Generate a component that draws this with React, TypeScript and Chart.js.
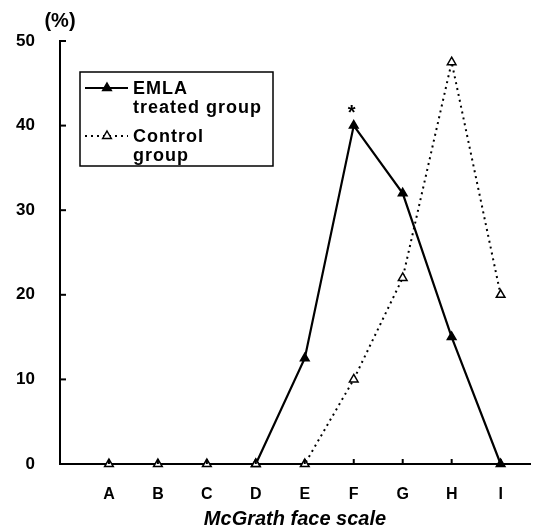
import React, { useEffect, useRef } from "react";
import { Chart, registerables } from "chart.js";

Chart.register(...registerables);

const categories = ["A", "B", "C", "D", "E", "F", "G", "H", "I"];
const emlaValues: (number | null)[] = [null, null, null, 0, 12.5, 40, 32, 15, 0];
const controlValues: number[] = [0, 0, 0, 0, 0, 10, 22, 47.5, 20];
const yTicks = [0, 10, 20, 30, 40, 50];
const emlaLabel = ["EMLA", "treated group"];
const controlLabel = ["Control", "group"];
const xTitle = "McGrath face scale";
const yUnit = "(%)";
const significanceMark = "*";
const significanceIndex = 5;

const FONT = "Arial, 'Liberation Sans', sans-serif";

const overlayPlugin = {
  id: "overlay",
  afterDraw(chart: any) {
    const ctx = chart.ctx as CanvasRenderingContext2D;
    const xs = chart.scales.x;
    const ys = chart.scales.y;
    const area = chart.chartArea;
    ctx.save();
    ctx.strokeStyle = "#000";
    ctx.lineWidth = 2;
    // inward y ticks
    yTicks.forEach((v) => {
      if (v === 0) return;
      const y = ys.getPixelForValue(v);
      ctx.beginPath();
      ctx.moveTo(area.left, y);
      ctx.lineTo(area.left + 6, y);
      ctx.stroke();
    });
    // inward x ticks
    categories.forEach((_, i) => {
      const x = xs.getPixelForValue(i);
      ctx.beginPath();
      ctx.moveTo(x, area.bottom);
      ctx.lineTo(x, area.bottom - 5);
      ctx.stroke();
    });
    // unit label
    ctx.fillStyle = "#000";
    ctx.font = `bold 20px ${FONT}`;
    ctx.textAlign = "center";
    ctx.textBaseline = "middle";
    ctx.fillText(yUnit, 60, 21);
    // significance asterisk
    ctx.font = `bold 20px ${FONT}`;
    ctx.fillText(
      significanceMark,
      xs.getPixelForValue(significanceIndex) - 2,
      ys.getPixelForValue(emlaValues[significanceIndex] as number) - 12
    );
    // legend box
    const bx = 80, by = 72, bw = 193, bh = 94;
    ctx.lineWidth = 1.5;
    ctx.strokeRect(bx, by, bw, bh);
    // EMLA sample
    ctx.lineWidth = 2;
    ctx.setLineDash([]);
    ctx.beginPath();
    ctx.moveTo(85, 88);
    ctx.lineTo(128, 88);
    ctx.stroke();
    const tri = (cx: number, cy: number, r: number, fill: string) => {
      ctx.beginPath();
      ctx.moveTo(cx, cy - r);
      ctx.lineTo(cx + r * 0.866, cy + r * 0.5);
      ctx.lineTo(cx - r * 0.866, cy + r * 0.5);
      ctx.closePath();
      ctx.fillStyle = fill;
      ctx.fill();
      ctx.lineWidth = 1.5;
      ctx.strokeStyle = "#000";
      ctx.stroke();
    };
    tri(107, 88, 5, "#000");
    // Control sample
    ctx.lineWidth = 2;
    ctx.setLineDash([2, 4]);
    ctx.beginPath();
    ctx.moveTo(85, 136);
    ctx.lineTo(128, 136);
    ctx.stroke();
    ctx.setLineDash([]);
    tri(107, 136, 5, "#fff");
    // legend texts
    ctx.fillStyle = "#000";
    ctx.font = `bold 18px ${FONT}`;
    ctx.textAlign = "left";
    ctx.textBaseline = "alphabetic";
    (ctx as any).letterSpacing = "1px";
    ctx.fillText(emlaLabel[0], 133, 94);
    ctx.fillText(emlaLabel[1], 133, 113);
    ctx.fillText(controlLabel[0], 133, 142);
    ctx.fillText(controlLabel[1], 133, 161);
    (ctx as any).letterSpacing = "0px";
    ctx.restore();
  },
};

export default function App() {
  const canvasRef = useRef<HTMLCanvasElement | null>(null);

  useEffect(() => {
    if (!canvasRef.current) return;
    const chart = new Chart(canvasRef.current, {
      type: "line",
      data: {
        datasets: [
          {
            label: controlLabel.join(" "),
            data: controlValues.map((v, i) => ({ x: i, y: v })),
            borderColor: "#000",
            borderWidth: 2,
            borderDash: [2, 4],
            pointStyle: "triangle",
            pointRadius: 5,
            pointBackgroundColor: "#fff",
            pointBorderColor: "#000",
            pointBorderWidth: 1.5,
            fill: false,
            tension: 0,
            clip: false as any,
          },
          {
            label: emlaLabel.join(" "),
            data: emlaValues.map((v, i) => ({ x: i, y: v })),
            borderColor: "#000",
            borderWidth: 2.2,
            pointStyle: "triangle",
            pointRadius: 5,
            pointBackgroundColor: "#000",
            pointBorderColor: "#000",
            pointBorderWidth: 1.5,
            fill: false,
            tension: 0,
            spanGaps: false,
            clip: false as any,
          },
        ],
      },
      options: {
        animation: false,
        responsive: true,
        maintainAspectRatio: false,
        layout: { padding: { top: 41, right: 7, left: 0, bottom: 0 } },
        plugins: { legend: { display: false }, tooltip: { enabled: false } },
        scales: {
          x: {
            type: "linear",
            min: -1,
            max: 8.6,
            afterBuildTicks: (scale: any) => {
              scale.ticks = categories.map((_, i) => ({ value: i }));
            },
            afterFit: (scale: any) => {
              scale.height = 68;
            },
            grid: { display: false },
            border: { display: true, color: "#000", width: 2 },
            ticks: {
              autoSkip: false,
              maxRotation: 0,
              padding: 13,
              color: "#000",
              font: { family: FONT, size: 16, weight: "bold" },
              callback: (v: any) => categories[Number(v)] ?? "",
            },
            title: {
              display: true,
              text: xTitle,
              color: "#000",
              font: { family: FONT, size: 20, weight: "bold", style: "italic" },
              padding: { top: 0, bottom: 1 },
            },
          },
          y: {
            min: 0,
            max: 50,
            afterBuildTicks: (scale: any) => {
              scale.ticks = yTicks.map((v) => ({ value: v }));
            },
            afterFit: (scale: any) => {
              scale.width = 60;
            },
            grid: { display: false },
            border: { display: true, color: "#000", width: 2 },
            ticks: {
              padding: 17,
              color: "#000",
              font: { family: FONT, size: 17, weight: "bold" },
            },
          },
        },
      },
      plugins: [overlayPlugin],
    });
    return () => chart.destroy();
  }, []);

  return (
    <div style={{ position: "absolute", left: 0, top: 0, width: 537, height: 532, background: "#fff" }}>
      <canvas ref={canvasRef} />
    </div>
  );
}
